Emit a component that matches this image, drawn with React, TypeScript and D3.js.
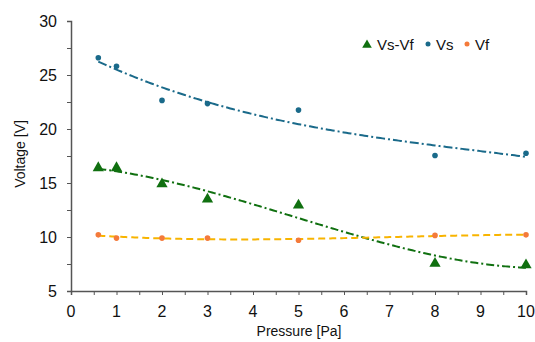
import { useEffect, useRef } from 'react'
import * as d3 from 'd3'

const pressure = [0.6, 1, 2, 3, 5, 8, 10]
const vs = [26.6, 25.8, 22.65, 22.35, 21.75, 17.55, 17.75]
const vf = [10.2, 9.9, 9.9, 9.9, 9.7, 10.15, 10.2]
const vsMinusVf = [16.4, 16.4, 14.9, 13.5, 12.95, 7.55, 7.4]
const xTicks = [0, 1, 2, 3, 4, 5, 6, 7, 8, 9, 10]
const yTicks = [5, 10, 15, 20, 25, 30]

// least squares polynomial trend line (like the spreadsheet trendline)
function polyFit(xs: number[], ys: number[], order: number) {
  const n = order + 1
  const A: number[][] = Array.from({ length: n }, () => new Array(n + 1).fill(0))
  for (let r = 0; r < n; r++) {
    for (let c = 0; c < n; c++) A[r][c] = d3.sum(xs, x => Math.pow(x, r + c))
    A[r][n] = d3.sum(xs, (x, i) => ys[i] * Math.pow(x, r))
  }
  for (let i = 0; i < n; i++) {
    let p = i
    for (let k = i + 1; k < n; k++) if (Math.abs(A[k][i]) > Math.abs(A[p][i])) p = k
    ;[A[i], A[p]] = [A[p], A[i]]
    for (let k = i + 1; k < n; k++) {
      const f = A[k][i] / A[i][i]
      for (let c = i; c <= n; c++) A[k][c] -= f * A[i][c]
    }
  }
  const coef = new Array(n).fill(0)
  for (let i = n - 1; i >= 0; i--) {
    let s = A[i][n]
    for (let c = i + 1; c < n; c++) s -= A[i][c] * coef[c]
    coef[i] = s / A[i][i]
  }
  return (x: number) => coef.reduce((acc, c, i) => acc + c * Math.pow(x, i), 0)
}

export default function App() {
  const svgRef = useRef<SVGSVGElement>(null)

  useEffect(() => {
    if (!svgRef.current) return
    const svg = d3.select(svgRef.current)
    svg.selectAll('*').remove()

    const font = '"Liberation Sans", Arial, sans-serif'
    const axisColor = '#555'
    const blue = '#1a6a8a'
    const green = '#107010'
    const orange = '#f47a3a'
    const yellow = '#f8b400'

    const x = d3.scaleLinear().domain([0, 10]).range([71, 526])
    const y = d3.scaleLinear().domain([5, 30]).range([291, 21])

    // axes
    const xAxis = svg.append('g').attr('transform', `translate(0,${y(5)})`)
      .call(d3.axisBottom(x).tickValues(d3.range(0, 10.01, 0.5)).tickSize(4).tickFormat(() => ''))
    xAxis.select('.domain').attr('stroke', axisColor).attr('stroke-width', 1.5)
    xAxis.selectAll('.tick line').attr('stroke', axisColor)

    const yAxis = svg.append('g').attr('transform', `translate(${x(0)},0)`)
      .call(d3.axisLeft(y).tickValues(d3.range(5, 30.01, 2.5)).tickSize(4).tickFormat(() => ''))
    yAxis.select('.domain').attr('stroke', axisColor).attr('stroke-width', 1.5)
    yAxis.selectAll('.tick line').attr('stroke', axisColor)

    svg.append('g').selectAll('text').data(xTicks).join('text')
      .attr('x', d => x(d)).attr('y', 317)
      .attr('text-anchor', 'middle')
      .style('font-family', font).style('font-size', '16px').style('fill', '#111')
      .text(d => d)

    svg.append('g').selectAll('text').data(yTicks).join('text')
      .attr('x', 57).attr('y', d => y(d)).attr('dy', '0.36em')
      .attr('text-anchor', 'end')
      .style('font-family', font).style('font-size', '16px').style('fill', '#111')
      .text(d => d)

    svg.append('text')
      .attr('x', 299).attr('y', 336)
      .attr('text-anchor', 'middle')
      .style('font-family', font).style('font-size', '14px').style('fill', '#111')
      .text('Pressure [Pa]')

    svg.append('text')
      .attr('transform', `translate(25,154) rotate(-90)`)
      .attr('text-anchor', 'middle')
      .style('font-family', font).style('font-size', '14px').style('fill', '#111')
      .text('Voltage [V]')

    // trend lines
    const xs = d3.range(0.6, 10.0001, 0.05)
    const line = d3.line<number>().x(d => x(d[0])).y(d => y(d[1]))
    const trends = [
      { vals: vs, order: 3, color: blue, dash: '9,3,2,3' },
      { vals: vsMinusVf, order: 3, color: green, dash: '8,3,2,3' },
      { vals: vf, order: 3, color: yellow, dash: '7,4' },
    ]
    trends.forEach(t => {
      const f = polyFit(pressure, t.vals, t.order)
      svg.append('path')
        .attr('d', line(xs.map(v => [v, f(v)]) as any))
        .attr('fill', 'none')
        .attr('stroke', t.color)
        .attr('stroke-width', 2)
        .attr('stroke-dasharray', t.dash)
    })

    // points
    svg.append('g').selectAll('path').data(pressure).join('path')
      .attr('transform', (d, i) => `translate(${x(d)},${y(vsMinusVf[i])})`)
      .attr('d', d3.symbol(d3.symbolTriangle, 55)())
      .attr('fill', green)

    svg.append('g').selectAll('circle').data(pressure).join('circle')
      .attr('cx', d => x(d)).attr('cy', (d, i) => y(vs[i]))
      .attr('r', 2.8).attr('fill', blue)

    svg.append('g').selectAll('circle').data(pressure).join('circle')
      .attr('cx', d => x(d)).attr('cy', (d, i) => y(vf[i]))
      .attr('r', 2.8).attr('fill', orange)

    // legend
    const lg = svg.append('g').style('font-family', font).style('font-size', '15px').style('fill', '#111')
    lg.append('path').attr('transform', 'translate(367,45)')
      .attr('d', d3.symbol(d3.symbolTriangle, 40)()).attr('fill', green)
    lg.append('text').attr('x', 377).attr('y', 50).text('Vs-Vf')
    lg.append('circle').attr('cx', 428).attr('cy', 44).attr('r', 2.5).attr('fill', blue)
    lg.append('text').attr('x', 436).attr('y', 50).text('Vs')
    lg.append('circle').attr('cx', 467).attr('cy', 44).attr('r', 2.5).attr('fill', orange)
    lg.append('text').attr('x', 475).attr('y', 50).text('Vf')
  }, [])

  return (
    <svg ref={svgRef} width={535} height={342}
      style={{ position: 'absolute', left: 0, top: 0, background: '#fff' }} />
  )
}
